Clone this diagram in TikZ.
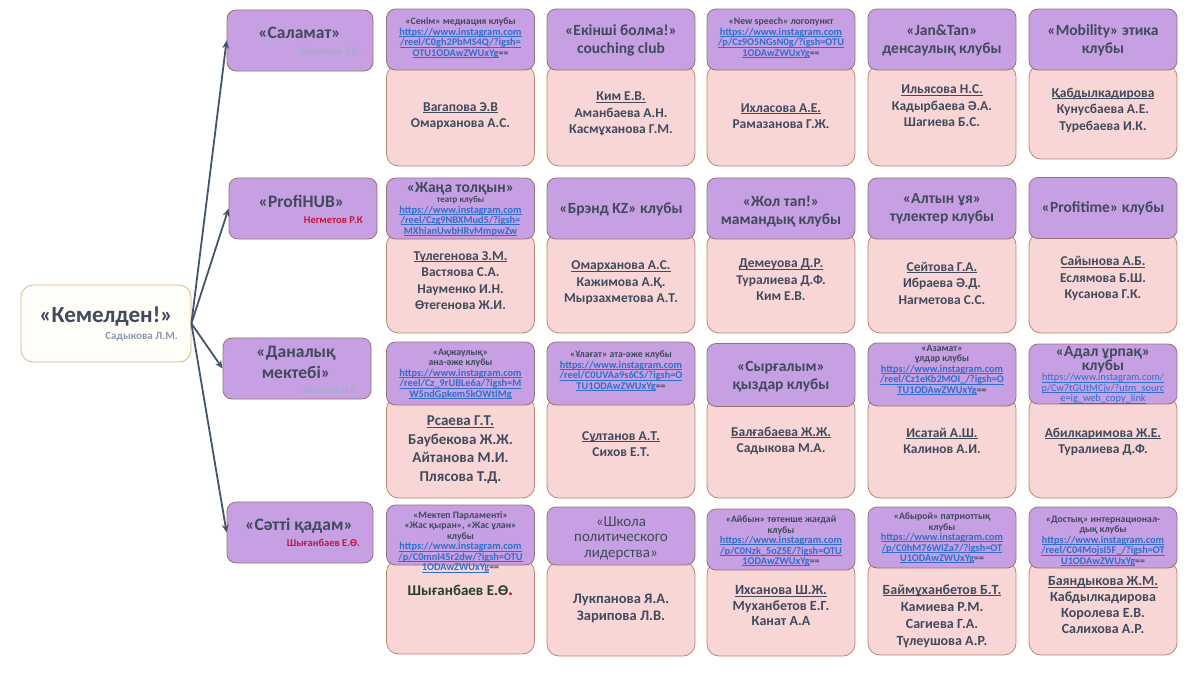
\documentclass[tikz,border=0pt]{standalone}
\usepackage{fontspec}
\setmainfont{Carlito}
\usepackage{xcolor}
\usepackage{tikz}
\usetikzlibrary{arrows.meta}

\definecolor{headfill}{HTML}{C6A0E2}
\definecolor{headline}{HTML}{9A7076}
\definecolor{bodyfill}{HTML}{F9D6D6}
\definecolor{bodyline}{HTML}{B9866C}
\definecolor{txt}{HTML}{404A5C}
\definecolor{lnk}{HTML}{2F6FC9}
\definecolor{arrowc}{HTML}{44546A}
\definecolor{leadgrey}{HTML}{8C98AE}
\definecolor{leadpale}{HTML}{A3ADC8}
\definecolor{leadred}{HTML}{C0173F}
\definecolor{mainfill}{HTML}{FFFDF8}
\definecolor{mainline}{HTML}{D6B58A}
\definecolor{namegreen}{HTML}{22402C}

\newcommand{\fs}[2]{\fontsize{#1}{#2}\selectfont}
\newcommand{\uline}[1]{\setbox0\hbox{#1}\rlap{\rule[-0.14em]{\wd0}{0.065em}}\box0}
\newcommand{\lnk}[1]{{\fs{10.3}{10.5}\color{lnk}\uline{#1}}}

\begin{document}
\begin{tikzpicture}[x=1pt,y=-1pt,
    head/.style={draw=headline,fill=headfill,line width=0.8pt,rounded corners=9pt,minimum width=148pt,minimum height=61pt,inner sep=0pt},
    card/.style={draw=bodyline,fill=bodyfill,line width=0.8pt,rounded corners=12pt,minimum width=148pt,inner sep=0pt},
    htext/.style={text=txt,font=\bfseries\fs{9.8}{10.5},align=center,inner sep=0pt},
    htitle/.style={text=txt,font=\bfseries\fs{15.5}{18},align=center,inner sep=0pt},
    names/.style={text=txt,font=\bfseries\fs{13.5}{16.5},align=center,inner sep=0pt},
    lead/.style={font=\bfseries\fs{10.5}{12},anchor=east,inner sep=0pt},
    arr/.style={draw=arrowc,line width=1.8pt,-{Stealth[length=8pt,width=7pt]}}]
\useasboundingbox (0,0) rectangle (1200,675);

% centre
\node[draw=mainline,fill=mainfill,line width=0.8pt,rounded corners=12pt,minimum width=170pt,minimum height=77pt] (kem) at (106,323.5) {};
\node[text=txt,font=\bfseries\fs{23}{27}] (kemt) at (106,316) {«Кемелден!»};
\node[lead,text=leadgrey,font=\bfseries\fs{11}{13}] (kemr) at (178,337) {Садыкова Л.М.};

% directions
\node[head,minimum width=146pt] (sal) at (300,40.5) {};
\node[htitle,font=\bfseries\fs{17.5}{20}] (salt) at (299.5,33) {«Саламат»};
\node[lead,text=leadpale] (salr) at (361,51) {Вагапова Э.В.};

\node[head] (pro) at (303,208.5) {};
\node[htitle,font=\bfseries\fs{17.5}{20}] (prot) at (301.5,201) {«ProfiHUB»};
\node[lead,text=leadred] (pror) at (363,220) {Негметов Р.К};

\node[head] (dan) at (297,368.5) {};
\node[htitle,font=\bfseries\fs{17.5}{21}] (dant) at (296,362) {«Даналық\\мектебі»};
\node[lead,text=leadpale] (danr) at (358,390) {Аюпова Н.Г.};

\node[head,minimum width=146pt] (sat) at (300,532.5) {};
\node[htitle,font=\bfseries\fs{17.5}{20}] (satt) at (299,526) {«Сәтті қадам»};
\node[lead,text=leadred] (satr) at (360,543) {Шығанбаев Е.Ө.};

\draw[arr] (kem.east) -- (sal.west);
\draw[arr] (kem.east) -- (pro.west);
\draw[arr] (kem.east) -- (dan.west);
\draw[arr] (kem.east) -- (sat.west);

% row 1
\node[card,minimum height=101pt] (b11) at (460.5,115.5) {};
\node[head] (h11) at (460.5,39.5) {};
\node[htext] (t11) at (460.5,38) {«Сенім» медиация клубы\\\lnk{https://www.instagram.com}\\\lnk{/reel/C0gh2PbMS4Q/?igsh=}\\\lnk{OTU1ODAwZWUxYg}==};
\node[names] (n11) at (460.5,116) {\uline{Вагапова Э.В}\\Омарханова А.С.};

\node[card,minimum height=101pt] (b12) at (621,115.5) {};
\node[head] (h12) at (621,39.5) {};
\node[htitle] (t12) at (621,40) {«Екінші болма!»\\couching club};
\node[names] (n12) at (621,114) {\uline{Ким Е.В.}\\Аманбаева А.Н.\\Касмұханова Г.М.};

\node[card,minimum height=101pt] (b13) at (781,115.5) {};
\node[head] (h13) at (781,39.5) {};
\node[htext] (t13) at (781,38) {«New speech» логопункт\\\lnk{https://www.instagram.com}\\\lnk{/p/Cz9O5NGsN0g/?igsh=OTU}\\\lnk{1ODAwZWUxYg}==};
\node[names] (n13) at (781,116) {\uline{Ихласова А.Е.}\\Рамазанова Г.Ж.};

\node[card,minimum height=101pt] (b14) at (942,115.5) {};
\node[head] (h14) at (942,39.5) {};
\node[htitle] (t14) at (942,40) {«Jan\&Tan»\\денсаулық клубы};
\node[names] (n14) at (942,106) {\uline{Ильясова Н.С.}\\Кадырбаева Ә.А.\\Шагиева Б.С.};

\node[card,minimum height=94pt] (b15) at (1103,112) {};
\node[head] (h15) at (1103,39.5) {};
\node[htitle] (t15) at (1103,40) {«Mobility» этика\\клубы};
\node[names] (n15) at (1103,110) {\uline{Қабдылкадирова}\\Кунусбаева А.Е.\\Туребаева И.К.};

% row 2
\node[card,minimum height=100pt] (b21) at (460.5,283) {};
\node[head] (h21) at (460.5,208.5) {};
\node[htext] (t21) at (460.5,209) {{\fs{15.5}{18}«Жаңа толқын»}\\{\fs{9}{10.5}театр клубы}\\\lnk{https://www.instagram.com}\\\lnk{/reel/Czg9NBXMud5/?igsh=}\\\lnk{MXhianUwbHRvMmpwZw}};
\node[names] (n21) at (460.5,280.5) {\uline{Түлегенова З.М.}\\Вастяова С.А.\\Науменко И.Н.\\Өтегенова Ж.И.};

\node[card,minimum height=100pt] (b22) at (621,283) {};
\node[head] (h22) at (621,208.5) {};
\node[htitle] (t22) at (621,209) {«Брэнд KZ» клубы};
\node[names] (n22) at (621,283) {\uline{Омарханова А.С.}\\Кажимова А.Қ.\\Мырзахметова А.Т.};

\node[card,minimum height=100pt] (b23) at (781,283) {};
\node[head] (h23) at (781,208.5) {};
\node[htitle] (t23) at (781,211) {«Жол тап!»\\мамандық клубы};
\node[names] (n23) at (781,280) {\uline{Демеуова Д.Р.}\\Туралиева Д.Ф.\\Ким Е.В.};

\node[card,minimum height=100pt] (b24) at (942,283) {};
\node[head] (h24) at (942,208.5) {};
\node[htitle] (t24) at (942,208.5) {«Алтын ұя»\\түлектер клубы};
\node[names] (n24) at (942,283) {\uline{Сейтова Г.А.}\\Ибраева Ә.Д.\\Нагметова С.С.};

\node[card,minimum height=100pt] (b25) at (1103,283) {};
\node[head] (h25) at (1103,208) {};
\node[htitle] (t25) at (1103,208) {«Profitime» клубы};
\node[names] (n25) at (1103,278.5) {\uline{Сайынова А.Б.}\\Еслямова Б.Ш.\\Кусанова Г.К.};

% row 3
\node[card,minimum height=101pt] (b31) at (460.5,447.5) {};
\node[head,minimum height=63pt] (h31) at (460.5,373.5) {};
\node[htext] (t31) at (460.5,374) {«Ақжаулық»\\ана-әже клубы\\\lnk{https://www.instagram.com}\\\lnk{/reel/Cz\_9rUBLe6a/?igsh=M}\\\lnk{W5ndGpkem5kOWtlMg}};
\node[names,font=\bfseries\fs{15}{18.5}] (n31) at (460.5,450) {\uline{Рсаева Г.Т.}\\Баубекова Ж.Ж.\\Айтанова М.И.\\Плясова Т.Д.};

\node[card,minimum height=101pt] (b32) at (621,447.5) {};
\node[head,minimum height=63pt] (h32) at (621,373.5) {};
\node[htext] (t32) at (621,371) {«Ұлағат» ата-әже клубы\\\lnk{https://www.instagram.com}\\\lnk{/reel/C0UVAa9s6CS/?igsh=O}\\\lnk{TU1ODAwZWUxYg}==};
\node[names] (n32) at (621,444) {\uline{Сұлтанов А.Т.}\\Сихов Е.Т.};

\node[card,minimum height=101pt] (b33) at (781,447.5) {};
\node[head,minimum height=63pt] (h33) at (781,375) {};
\node[htitle] (t33) at (781,377) {«Сырғалым»\\қыздар клубы};
\node[names] (n33) at (781,441) {\uline{Балғабаева Ж.Ж.}\\Садыкова М.А.};

\node[card,minimum height=101pt] (b34) at (942,447.5) {};
\node[head,minimum height=63pt] (h34) at (942,374.5) {};
\node[htext] (t34) at (942,370) {«Азамат»\\ұлдар клубы\\\lnk{https://www.instagram.com}\\\lnk{/reel/Cz1eKb2MOI\_/?igsh=O}\\\lnk{TU1ODAwZWUxYg}==};
\node[names] (n34) at (942,441) {\uline{Исатай А.Ш.}\\Калинов А.И.};

\node[card,minimum height=101pt] (b35) at (1103,447.5) {};
\node[head,minimum height=60pt] (h35) at (1103,374) {};
\node[htext] (t35) at (1103,375) {{\fs{15.5}{18}«Адал ұрпақ»}\\{\fs{15.5}{18}клубы}\\{\mdseries\lnk{https://www.instagram.com/}}\\{\mdseries\lnk{p/Cw7tGUtMCjv/?utm\_sourc}}\\{\mdseries\lnk{e=ig\_web\_copy\_link}}};
\node[names] (n35) at (1103,442) {\uline{Абилкаримова Ж.Е.}\\Туралиева Д.Ф.};

% row 4
\node[card,minimum height=94pt] (b41) at (460.5,607) {};
\node[head,minimum height=60pt] (h41) at (460.5,535) {};
\node[htext] (t41) at (460.5,542) {«Мектеп Парламенті»\\«Жас қыран», «Жас ұлан»\\клубы\\\lnk{https://www.instagram.com}\\\lnk{/p/C0mnI45r2dw/?igsh=OTU}\\\lnk{1ODAwZWUxYg}==};
\node[names,text=namegreen,font=\bfseries\fs{15}{17}] (n41) at (460.5,590) {Шығанбаев Е.Ө{\color{leadred}\fs{19}{17}.}};

\node[card,minimum height=94pt] (b42) at (621,609) {};
\node[head,minimum height=58pt] (h42) at (621,536) {};
\node[htitle,font=\fs{15}{15.5}] (t42) at (621,538) {«Школа\\политического\\лидерства»};
\node[names,font=\bfseries\fs{14.5}{17}] (n42) at (621,608) {Лукпанова Я.А.\\Зарипова Л.В.};

\node[card,minimum height=94pt] (b43) at (781,609) {};
\node[head] (h43) at (781,539.5) {};
\node[htext] (t43) at (781,541) {«Айбын» төтенше жағдай\\клубы\\\lnk{https://www.instagram.com}\\\lnk{/p/C0Nzk\_5oZ5E/?igsh=OTU}\\\lnk{1ODAwZWUxYg}==};
\node[names,font=\bfseries\fs{14}{15.5}] (n43) at (781,606) {\uline{Ихсанова Ш.Ж.}\\Муханбетов Е.Г.\\Канат А.А};

\node[card,minimum height=94pt] (b44) at (942,608) {};
\node[head] (h44) at (942,537.5) {};
\node[htext] (t44) at (942,538) {«Абырой» патриоттық\\клубы\\\lnk{https://www.instagram.com}\\\lnk{/p/C0hM76WIZa7/?igsh=OT}\\\lnk{U1ODAwZWUxYg}==};
\node[names,font=\bfseries\fs{14}{17}] (n44) at (942,616) {\uline{Баймұханбетов Б.Т.}\\Камиева Р.М.\\Сагиева Г.А.\\Түлеушова А.Р.};

\node[card,minimum height=94pt] (b45) at (1103,608) {};
\node[head] (h45) at (1103,537.5) {};
\node[htext] (t45) at (1103,541) {«Достық» интернационал-\\дық клубы\\\lnk{https://www.instagram.com}\\\lnk{/reel/C04MojsI5F\_/?igsh=OT}\\\lnk{U1ODAwZWUxYg}==};
\node[names,font=\bfseries\fs{14}{16}] (n45) at (1103,605) {\uline{Баяндыкова Ж.М.}\\Кабдылкадирова\\Королева Е.В.\\Салихова А.Р.};
\end{tikzpicture}
\end{document}
